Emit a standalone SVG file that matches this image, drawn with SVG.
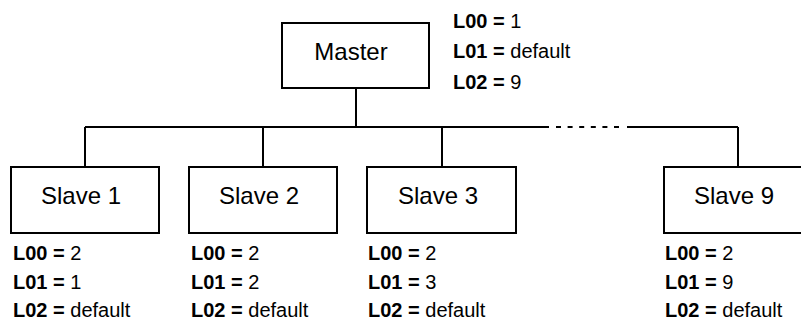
<svg xmlns="http://www.w3.org/2000/svg" width="801" height="322" viewBox="0 0 801 322">
<style>
.box{fill:#fff;stroke:#000;stroke-width:2}
.wire{fill:none;stroke:#000;stroke-width:2}
.name{font-family:"Liberation Sans",Arial,sans-serif;font-size:24px;fill:#000;text-anchor:middle}
.lbl{font-family:"Liberation Sans",Arial,sans-serif;font-size:20px;fill:#000}
.b{font-weight:bold}
</style>
<rect width="801" height="322" fill="#fff"/>
<g id="connectors">
<path class="wire" d="M356,88 V127 M85,127 H549 M627,127 H738 M85,127 V167 M263,127 V167 M442,127 V167 M738,127 V167"/>
<path class="wire" d="M556,127 H619" stroke-dasharray="5 6.6"/>
</g>
<g id="master">
<rect class="box" x="282" y="23" width="147" height="65"/>
<text class="name" x="351" y="60">Master</text>
<text class="lbl" x="453" y="28"><tspan class="b">L00 =</tspan> 1</text>
<text class="lbl" x="453" y="58"><tspan class="b">L01 =</tspan> default</text>
<text class="lbl" x="453" y="89"><tspan class="b">L02 =</tspan> 9</text>
</g>
<g id="slave1">
<rect class="box" x="11" y="167" width="148" height="66"/>
<text class="name" x="81" y="204">Slave 1</text>
<text class="lbl" x="13" y="260"><tspan class="b">L00 =</tspan> 2</text>
<text class="lbl" x="13" y="289"><tspan class="b">L01 =</tspan> 1</text>
<text class="lbl" x="13" y="317"><tspan class="b">L02 =</tspan> default</text>
</g>
<g id="slave2">
<rect class="box" x="189" y="167" width="148" height="66"/>
<text class="name" x="259" y="204">Slave 2</text>
<text class="lbl" x="191" y="260"><tspan class="b">L00 =</tspan> 2</text>
<text class="lbl" x="191" y="289"><tspan class="b">L01 =</tspan> 2</text>
<text class="lbl" x="191" y="317"><tspan class="b">L02 =</tspan> default</text>
</g>
<g id="slave3">
<rect class="box" x="367" y="167" width="149" height="66"/>
<text class="name" x="438" y="204">Slave 3</text>
<text class="lbl" x="368" y="260"><tspan class="b">L00 =</tspan> 2</text>
<text class="lbl" x="368" y="289"><tspan class="b">L01 =</tspan> 3</text>
<text class="lbl" x="368" y="317"><tspan class="b">L02 =</tspan> default</text>
</g>
<g id="slave9">
<rect class="box" x="664" y="167" width="148" height="66"/>
<text class="name" x="734" y="204">Slave 9</text>
<text class="lbl" x="665" y="260"><tspan class="b">L00 =</tspan> 2</text>
<text class="lbl" x="665" y="289"><tspan class="b">L01 =</tspan> 9</text>
<text class="lbl" x="665" y="317"><tspan class="b">L02 =</tspan> default</text>
</g>
</svg>
